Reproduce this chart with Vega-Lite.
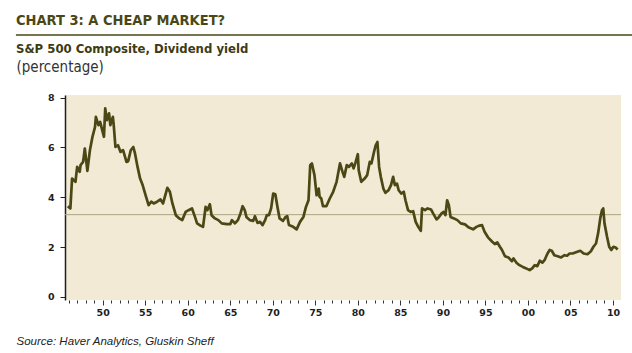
{
  "$schema": "https://vega.github.io/schema/vega-lite/v6.json",
  "autosize": {"type": "none"},
  "padding": {"left": 65, "top": 95, "right": 11, "bottom": 53},
  "width": 556,
  "height": 205,
  "background": "#ffffff",
  "title": {
    "text": "CHART 3: A CHEAP MARKET?",
    "subtitle": "S&P 500 Composite, Dividend yield",
    "anchor": "start",
    "frame": "group",
    "orient": "top",
    "dx": -49,
    "dy": 26,
    "offset": 3,
    "font": "DejaVu Sans Condensed, sans-serif",
    "fontSize": 14.5,
    "fontWeight": "bold",
    "color": "#4A4716",
    "subtitleFont": "DejaVu Sans Condensed, sans-serif",
    "subtitleFontSize": 13,
    "subtitleFontWeight": "bold",
    "subtitleColor": "#3E3B12",
    "subtitlePadding": 15
  },
  "datasets": {
    "yield": [
      {"t": 1945.9, "y": 3.64}, {"t": 1946.2, "y": 3.55}, {"t": 1946.4, "y": 4.75}, {"t": 1946.8, "y": 4.62},
      {"t": 1947.0, "y": 5.22}, {"t": 1947.3, "y": 5.02}, {"t": 1947.4, "y": 5.29}, {"t": 1947.7, "y": 5.42},
      {"t": 1947.9, "y": 5.96}, {"t": 1948.2, "y": 5.06}, {"t": 1948.5, "y": 5.89}, {"t": 1948.8, "y": 6.43},
      {"t": 1949.1, "y": 6.83}, {"t": 1949.2, "y": 7.23}, {"t": 1949.5, "y": 6.9}, {"t": 1949.7, "y": 7.03},
      {"t": 1949.9, "y": 6.76}, {"t": 1950.15, "y": 6.43}, {"t": 1950.3, "y": 7.57}, {"t": 1950.5, "y": 7.1},
      {"t": 1950.75, "y": 7.37}, {"t": 1950.9, "y": 6.9}, {"t": 1951.2, "y": 7.23}, {"t": 1951.3, "y": 6.9},
      {"t": 1951.5, "y": 6.02}, {"t": 1951.8, "y": 6.09}, {"t": 1952.1, "y": 5.82}, {"t": 1952.4, "y": 5.89},
      {"t": 1952.8, "y": 5.42}, {"t": 1953.0, "y": 5.45}, {"t": 1953.3, "y": 5.89}, {"t": 1953.6, "y": 6.02},
      {"t": 1953.8, "y": 5.76}, {"t": 1954.1, "y": 5.22}, {"t": 1954.4, "y": 4.75}, {"t": 1954.7, "y": 4.49},
      {"t": 1955.05, "y": 4.08}, {"t": 1955.4, "y": 3.68}, {"t": 1955.7, "y": 3.82}, {"t": 1956.0, "y": 3.75},
      {"t": 1956.4, "y": 3.82}, {"t": 1956.8, "y": 3.91}, {"t": 1957.1, "y": 3.75}, {"t": 1957.6, "y": 4.38},
      {"t": 1957.9, "y": 4.22}, {"t": 1958.2, "y": 3.75}, {"t": 1958.6, "y": 3.28}, {"t": 1959.0, "y": 3.15},
      {"t": 1959.35, "y": 3.08}, {"t": 1959.75, "y": 3.41}, {"t": 1960.1, "y": 3.48}, {"t": 1960.5, "y": 3.55},
      {"t": 1960.85, "y": 3.21}, {"t": 1961.1, "y": 2.95}, {"t": 1961.5, "y": 2.86}, {"t": 1961.8, "y": 2.81},
      {"t": 1962.1, "y": 3.61}, {"t": 1962.3, "y": 3.48}, {"t": 1962.6, "y": 3.72}, {"t": 1962.8, "y": 3.28},
      {"t": 1963.2, "y": 3.15}, {"t": 1963.6, "y": 3.08}, {"t": 1964.0, "y": 2.95}, {"t": 1964.6, "y": 2.92},
      {"t": 1965.0, "y": 2.92}, {"t": 1965.2, "y": 3.08}, {"t": 1965.55, "y": 2.95}, {"t": 1965.9, "y": 3.08},
      {"t": 1966.2, "y": 3.35}, {"t": 1966.45, "y": 3.64}, {"t": 1966.7, "y": 3.48}, {"t": 1966.9, "y": 3.21},
      {"t": 1967.3, "y": 3.08}, {"t": 1967.7, "y": 3.05}, {"t": 1967.9, "y": 3.24}, {"t": 1968.2, "y": 2.97},
      {"t": 1968.5, "y": 3.01}, {"t": 1968.8, "y": 2.88}, {"t": 1969.1, "y": 3.08}, {"t": 1969.3, "y": 3.28},
      {"t": 1969.55, "y": 3.28}, {"t": 1969.8, "y": 3.55}, {"t": 1970.05, "y": 4.15}, {"t": 1970.3, "y": 4.12},
      {"t": 1970.55, "y": 3.61}, {"t": 1970.8, "y": 3.15}, {"t": 1971.2, "y": 3.05}, {"t": 1971.5, "y": 3.21},
      {"t": 1971.7, "y": 3.24}, {"t": 1971.9, "y": 2.88}, {"t": 1972.4, "y": 2.81}, {"t": 1972.8, "y": 2.71},
      {"t": 1973.2, "y": 3.01}, {"t": 1973.6, "y": 3.21}, {"t": 1973.9, "y": 3.61}, {"t": 1974.2, "y": 3.88},
      {"t": 1974.4, "y": 5.29}, {"t": 1974.6, "y": 5.36}, {"t": 1974.9, "y": 4.89}, {"t": 1975.15, "y": 4.08},
      {"t": 1975.4, "y": 4.35}, {"t": 1975.5, "y": 4.02}, {"t": 1975.7, "y": 3.95}, {"t": 1975.9, "y": 3.64},
      {"t": 1976.3, "y": 3.64}, {"t": 1976.7, "y": 3.95}, {"t": 1977.1, "y": 4.22}, {"t": 1977.5, "y": 4.62},
      {"t": 1977.9, "y": 5.36}, {"t": 1978.2, "y": 5.02}, {"t": 1978.4, "y": 4.82}, {"t": 1978.7, "y": 5.29},
      {"t": 1978.95, "y": 5.22}, {"t": 1979.3, "y": 5.36}, {"t": 1979.5, "y": 5.16}, {"t": 1979.7, "y": 5.36},
      {"t": 1980.0, "y": 5.73}, {"t": 1980.1, "y": 5.09}, {"t": 1980.4, "y": 4.62}, {"t": 1980.8, "y": 4.75},
      {"t": 1981.1, "y": 4.89}, {"t": 1981.4, "y": 5.42}, {"t": 1981.6, "y": 5.36}, {"t": 1981.9, "y": 5.82},
      {"t": 1982.1, "y": 6.09}, {"t": 1982.3, "y": 6.22}, {"t": 1982.5, "y": 5.22}, {"t": 1982.7, "y": 4.82},
      {"t": 1983.0, "y": 4.35}, {"t": 1983.25, "y": 4.18}, {"t": 1983.6, "y": 4.28}, {"t": 1983.9, "y": 4.49},
      {"t": 1984.15, "y": 4.82}, {"t": 1984.35, "y": 4.49}, {"t": 1984.6, "y": 4.55}, {"t": 1984.8, "y": 4.28},
      {"t": 1985.1, "y": 4.15}, {"t": 1985.4, "y": 4.22}, {"t": 1985.6, "y": 3.88}, {"t": 1985.9, "y": 3.48},
      {"t": 1986.2, "y": 3.41}, {"t": 1986.5, "y": 3.44}, {"t": 1986.8, "y": 3.01}, {"t": 1987.1, "y": 2.81},
      {"t": 1987.4, "y": 2.65}, {"t": 1987.55, "y": 3.55}, {"t": 1987.9, "y": 3.48}, {"t": 1988.2, "y": 3.55},
      {"t": 1988.6, "y": 3.51}, {"t": 1988.85, "y": 3.35}, {"t": 1989.25, "y": 3.11}, {"t": 1989.5, "y": 3.19},
      {"t": 1989.85, "y": 3.35}, {"t": 1990.1, "y": 3.41}, {"t": 1990.3, "y": 3.28}, {"t": 1990.5, "y": 3.88},
      {"t": 1990.7, "y": 3.68}, {"t": 1990.9, "y": 3.21}, {"t": 1991.3, "y": 3.15}, {"t": 1991.7, "y": 3.08},
      {"t": 1992.1, "y": 2.95}, {"t": 1992.6, "y": 2.91}, {"t": 1993.0, "y": 2.79}, {"t": 1993.55, "y": 2.71},
      {"t": 1993.95, "y": 2.81}, {"t": 1994.2, "y": 2.85}, {"t": 1994.6, "y": 2.88}, {"t": 1994.9, "y": 2.61},
      {"t": 1995.3, "y": 2.39}, {"t": 1995.8, "y": 2.21}, {"t": 1996.1, "y": 2.12}, {"t": 1996.4, "y": 2.18},
      {"t": 1996.7, "y": 2.01}, {"t": 1996.95, "y": 1.88}, {"t": 1997.3, "y": 1.63}, {"t": 1997.7, "y": 1.58},
      {"t": 1998.1, "y": 1.43}, {"t": 1998.3, "y": 1.54}, {"t": 1998.65, "y": 1.37}, {"t": 1999.0, "y": 1.27},
      {"t": 1999.4, "y": 1.2}, {"t": 1999.8, "y": 1.14}, {"t": 2000.2, "y": 1.07}, {"t": 2000.5, "y": 1.14},
      {"t": 2000.8, "y": 1.27}, {"t": 2001.1, "y": 1.23}, {"t": 2001.4, "y": 1.45}, {"t": 2001.7, "y": 1.37},
      {"t": 2001.95, "y": 1.47}, {"t": 2002.3, "y": 1.74}, {"t": 2002.55, "y": 1.88}, {"t": 2002.8, "y": 1.85},
      {"t": 2003.1, "y": 1.67}, {"t": 2003.5, "y": 1.63}, {"t": 2003.9, "y": 1.58}, {"t": 2004.3, "y": 1.67},
      {"t": 2004.6, "y": 1.65}, {"t": 2004.9, "y": 1.74}, {"t": 2005.25, "y": 1.74}, {"t": 2005.65, "y": 1.79},
      {"t": 2006.15, "y": 1.85}, {"t": 2006.55, "y": 1.74}, {"t": 2007.0, "y": 1.71}, {"t": 2007.4, "y": 1.83},
      {"t": 2007.7, "y": 2.01}, {"t": 2008.0, "y": 2.14}, {"t": 2008.25, "y": 2.55}, {"t": 2008.5, "y": 3.15},
      {"t": 2008.7, "y": 3.48}, {"t": 2008.85, "y": 3.55}, {"t": 2009.0, "y": 2.95}, {"t": 2009.3, "y": 2.41},
      {"t": 2009.55, "y": 2.01}, {"t": 2009.8, "y": 1.88}, {"t": 2010.05, "y": 2.01}, {"t": 2010.3, "y": 1.98},
      {"t": 2010.55, "y": 1.9}
    ],
    "average": [{"mean": 3.3}]
  },
  "layer": [
    {
      "data": {"name": "average"},
      "mark": {"type": "rule", "color": "#A9A682", "strokeWidth": 1},
      "encoding": {
        "y": {"field": "mean", "type": "quantitative"}
      }
    },
    {
      "data": {"name": "yield"},
      "mark": {"type": "line", "color": "#4A4814", "strokeWidth": 2.7, "strokeJoin": "round", "interpolate": "linear"},
      "encoding": {
        "x": {
          "field": "t",
          "type": "quantitative",
          "scale": {"domain": [1945.57, 2010.94], "nice": false, "zero": false},
          "axis": {
            "title": "Source: Haver Analytics, Gluskin Sheff",
            "titleFont": "Liberation Sans, Arial, sans-serif",
            "titleFontStyle": "italic",
            "titleFontWeight": "normal",
            "titleFontSize": 11.5,
            "titleColor": "#222222",
            "titleAngle": 0,
            "titleAlign": "left",
            "titleBaseline": "alphabetic",
            "titleX": -49,
            "titleY": 44,
            "tickCount": 200,
            "values": [1946, 1947, 1948, 1949, 1950, 1951, 1952, 1953, 1954, 1955, 1956, 1957, 1958, 1959, 1960, 1961, 1962, 1963, 1964, 1965, 1966, 1967, 1968, 1969, 1970, 1971, 1972, 1973, 1974, 1975, 1976, 1977, 1978, 1979, 1980, 1981, 1982, 1983, 1984, 1985, 1986, 1987, 1988, 1989, 1990, 1991, 1992, 1993, 1994, 1995, 1996, 1997, 1998, 1999, 2000, 2001, 2002, 2003, 2004, 2005, 2006, 2007, 2008, 2009, 2010],
            "labelExpr": "datum.value % 5 === 0 ? substring(toString(datum.value), 2, 4) : ''",
            "labelOverlap": false,
            "labelFlush": false,
            "labelFont": "DejaVu Sans, sans-serif",
            "labelFontWeight": "bold",
            "labelFontSize": 9.5,
            "labelColor": "#1E1E1E",
            "labelPadding": 2,
            "tickColor": "#333333",
            "tickWidth": 1,
            "tickSize": {"condition": {"test": "datum.value % 5 === 0", "value": 5}, "value": 3},
            "domain": false,
            "grid": false
          }
        },
        "y": {
          "field": "y",
          "type": "quantitative",
          "scale": {"domain": [-0.13, 8.11], "nice": false, "zero": false},
          "axis": {
            "title": "(percentage)",
            "titleFont": "DejaVu Sans Condensed, sans-serif",
            "titleFontWeight": "normal",
            "titleFontSize": 15,
            "titleColor": "#333333",
            "titleAngle": 0,
            "titleAlign": "left",
            "titleBaseline": "alphabetic",
            "titleX": -49,
            "titleY": -24,
            "values": [0, 2, 4, 6, 8],
            "labelFont": "DejaVu Sans, sans-serif",
            "labelFontWeight": "bold",
            "labelFontSize": 9.5,
            "labelColor": "#1E1E1E",
            "labelPadding": 6,
            "tickColor": "#222222",
            "tickSize": 5,
            "tickWidth": 1,
            "domainColor": "#1E1E1E",
            "domainWidth": 1.5,
            "grid": false
          }
        }
      }
    },
    {
      "data": {"values": [{}]},
      "mark": {"type": "rule", "color": "#4A4716", "strokeWidth": 1.5, "clip": false},
      "encoding": {
        "x": {"datum": 1939.8, "type": "quantitative"},
        "x2": {"datum": 2012.3},
        "y": {"datum": 10.52, "type": "quantitative"}
      }
    }
  ],
  "config": {
    "view": {"fill": "#F2EAD4", "stroke": null}
  }
}
